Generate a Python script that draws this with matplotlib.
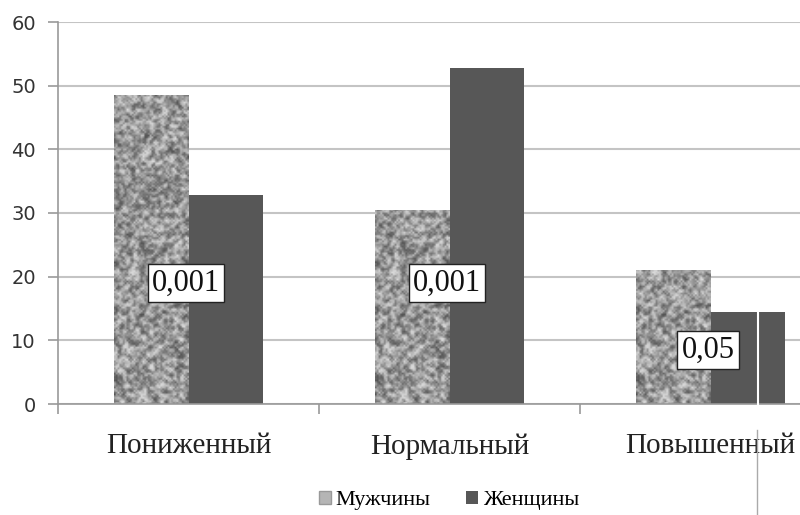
import numpy as np
import matplotlib.pyplot as plt
from matplotlib.patches import Patch
from matplotlib.lines import Line2D

categories = ["Пониженный", "Нормальный", "Повышенный"]
men = [48.5, 30.4, 21.0]
women = [32.8, 52.7, 14.5]
p_labels = ["0,001", "0,001", "0,05"]
p_heights = [19.0, 19.0, 8.5]

serif = ["Liberation Serif", "DejaVu Serif"]

fig = plt.figure(figsize=(8.0, 5.15), dpi=100)
ax = fig.add_axes([58 / 800, 111 / 515, 783 / 800, 382 / 515])

x = np.arange(len(categories))
w = 0.284

# granite-like texture for the first series
rng = np.random.default_rng(7)
rows, cols = 220, 42
noise = rng.random((rows, cols))
pad = np.pad(noise, 1, mode="wrap")
smooth = sum(pad[i:i + rows, j:j + cols] for i in range(3) for j in range(3)) / 9.0
tex = np.clip((smooth - 0.5) * 2.5 + 0.5, 0, 1) * 0.5 + noise * 0.5

bars_m = ax.bar(x - w / 2, men, w, color="none", edgecolor="none", zorder=2)
for b in bars_m:
    im = ax.imshow(tex, cmap="gray", vmin=-0.6, vmax=1.25, aspect="auto",
                   extent=[b.get_x(), b.get_x() + b.get_width(), 0, 60],
                   interpolation="bilinear", zorder=2)
    im.set_clip_path(b)
bars_w = ax.bar(x + w / 2, women, w, color="#575757", edgecolor="none", zorder=2)

for xi, lab, h in zip(x, p_labels, p_heights):
    ax.text(xi - 0.01, h, lab, ha="center", va="center", fontsize=22,
            family=serif, color="#111111", zorder=5,
            bbox=dict(boxstyle="square,pad=0.14", fc="white", ec="#222222", lw=1.0))

ax.set_xlim(-0.5, len(categories) - 0.5)
ax.set_ylim(0, 60)
ax.set_yticks(range(0, 61, 10))
ax.set_xticks(x)
ax.set_xticklabels(categories, fontsize=21, family=serif, color="#222222")
ax.set_xticks([-0.5, 0.5, 1.5, 2.5], minor=True)
ax.tick_params(axis="x", which="major", length=0, pad=21)
ax.tick_params(axis="x", which="minor", length=7, color="#999999", width=1.2)
ax.tick_params(axis="y", length=7, color="#999999", width=1.2, labelsize=14,
               labelcolor="#333333", pad=9)
ax.yaxis.grid(True, color="#c4c4c4", lw=1.5, zorder=0)
ax.set_axisbelow(True)
for s in ["top", "right"]:
    ax.spines[s].set_visible(False)
for s in ["left", "bottom"]:
    ax.spines[s].set_color("#999999")
    ax.spines[s].set_linewidth(1.2)

handles = [Patch(facecolor="#b5b5b5", edgecolor="#999999"),
           Patch(facecolor="#575757", edgecolor="none")]
fig.legend(handles, ["Мужчины", "Женщины"], loc="lower center",
           bbox_to_anchor=(0.561, -0.03), ncol=2, frameon=False,
           prop=dict(family=serif, size=16), handlelength=0.55, handleheight=0.55,
           handletextpad=0.2, columnspacing=1.6)

# thin cut line through the last bar and below the axis
fig.add_artist(Line2D([757 / 800, 757 / 800], [0, 85 / 515], color="#aaaaaa", lw=1))
fig.add_artist(Line2D([758 / 800, 758 / 800], [111 / 515, 203 / 515], color="white", lw=1.5))

fig.savefig("out.png", dpi=100)
